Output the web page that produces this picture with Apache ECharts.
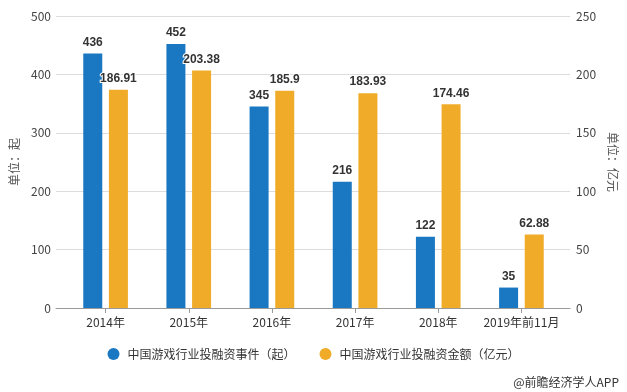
<!DOCTYPE html>
<html><head><meta charset="utf-8">
<script src="https://cdn.jsdelivr.net/npm/echarts@6/dist/echarts.min.js"></script>
<style>html,body{margin:0;padding:0;background:#fff}#c{width:627px;height:392px}</style>
</head><body><div id="c"></div>
<script>
var categories = ['2014年','2015年','2016年','2017年','2018年','2019年前11月'];
var eventCounts = [436, 452, 345, 216, 122, 35];
var amounts = [186.91, 203.38, 185.9, 183.93, 174.46, 62.88];
var seriesNames = ['中国游戏行业投融资事件（起）', '中国游戏行业投融资金额（亿元）'];
var leftName = '单位：起';
var rightName = '单位：亿元';
var sourceText = '@前瞻经济学人APP';

var FONT = '"Noto Sans CJK SC", "Microsoft YaHei", sans-serif';
var chart = echarts.init(document.getElementById('c'));
var labelStyle = {show: true, position: 'top', color: '#333', fontWeight: 'bold', fontSize: 12, fontFamily: 'Arial, sans-serif', textBorderColor: '#fff', textBorderWidth: 2, distance: 5};
chart.setOption({
  animation: false,
  textStyle: {fontFamily: FONT},
  grid: [
    {left: 64, right: 64, top: 16, bottom: 84},
    {left: 55, right: 55, top: 16, bottom: 84}
  ],
  legend: {
    bottom: 27, left: 'center', itemGap: 24, icon: 'circle', itemWidth: 12, itemHeight: 12,
    textStyle: {color: '#333', fontSize: 12, fontFamily: FONT, padding: [0, 0, 0, 3]},
    data: seriesNames
  },
  graphic: [{type: 'text', right: 8, bottom: 4, style: {text: sourceText, fill: '#333', font: '12px ' + FONT}}],
  xAxis: [
    {type: 'category', gridIndex: 0, data: categories,
     axisLine: {show: false},
     axisTick: {show: true, alignWithLabel: true, length: 5, lineStyle: {color: '#999'}},
     axisLabel: {color: '#333', fontSize: 12, margin: 8, interval: 0}},
    {type: 'category', gridIndex: 1, data: categories,
     axisLine: {show: true, lineStyle: {color: '#999'}},
     axisTick: {show: false}, axisLabel: {show: false}}
  ],
  yAxis: [
    {type: 'value', gridIndex: 0, min: 0, max: 500, interval: 100, show: false},
    {type: 'value', gridIndex: 0, min: 0, max: 250, interval: 50, show: false},
    {type: 'value', gridIndex: 1, min: 0, max: 500, interval: 100, position: 'left',
     name: leftName, nameLocation: 'middle', nameGap: 36,
     nameTextStyle: {color: '#555', fontSize: 12},
     axisLine: {show: false}, axisTick: {show: false},
     axisLabel: {color: '#444', fontSize: 12, margin: 5},
     splitLine: {lineStyle: {color: '#dcdcdc'}}},
    {type: 'value', gridIndex: 1, min: 0, max: 250, interval: 50, position: 'right',
     name: rightName, nameLocation: 'middle', nameGap: 36, nameRotate: -90,
     nameTextStyle: {color: '#555', fontSize: 12},
     axisLine: {show: false}, axisTick: {show: false},
     axisLabel: {color: '#444', fontSize: 12, margin: 6},
     splitLine: {show: false}}
  ],
  series: [
    {name: seriesNames[0], type: 'bar', xAxisIndex: 0, yAxisIndex: 0, data: eventCounts,
     barWidth: 19, barGap: '35%', itemStyle: {color: '#1a78c2'}, label: labelStyle},
    {name: seriesNames[1], type: 'bar', xAxisIndex: 0, yAxisIndex: 1, data: amounts,
     barWidth: 19, barGap: '35%', itemStyle: {color: '#f0ac28'}, label: labelStyle}
  ]
});
</script></body></html>
